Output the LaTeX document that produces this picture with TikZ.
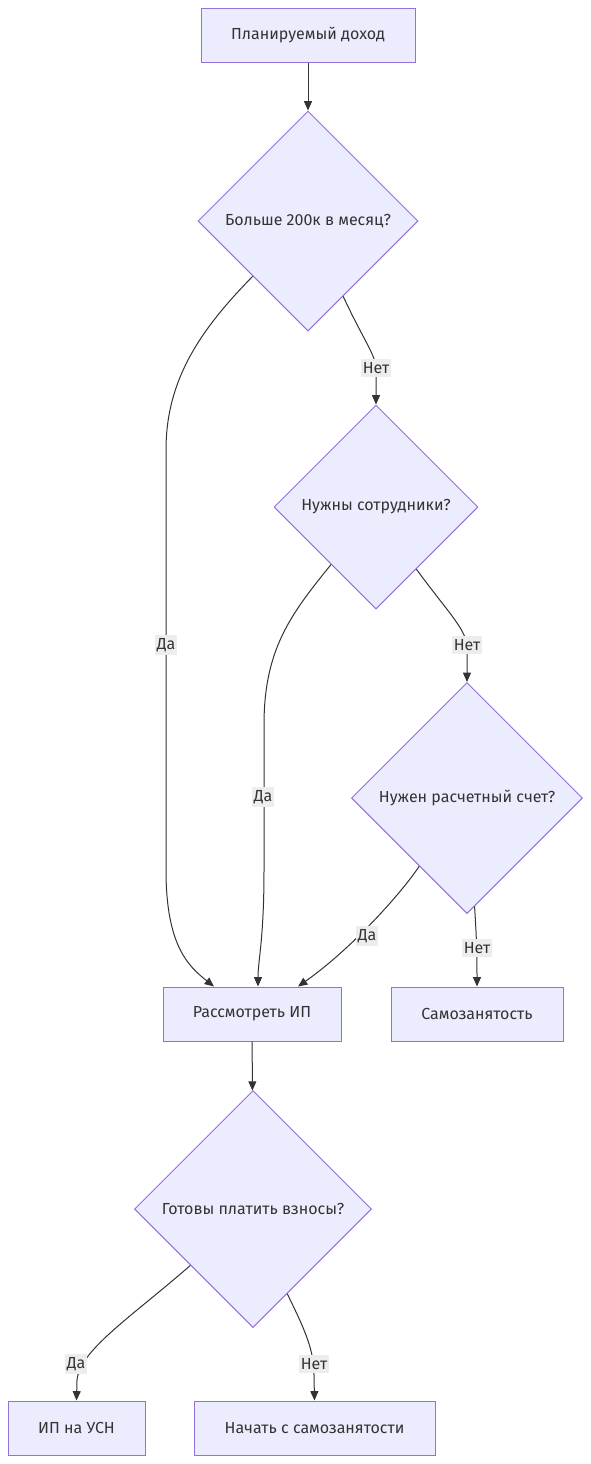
\documentclass[tikz,border=0pt]{standalone}
\usepackage{fontspec}
\setmainfont{Fira Sans}
\usetikzlibrary{shapes.geometric,arrows.meta,calc}

\definecolor{boxfill}{HTML}{ECECFF}
\definecolor{boxline}{HTML}{9370DB}
\definecolor{edgeline}{HTML}{333333}
\definecolor{labelfill}{HTML}{EDEDED}
\definecolor{textgray}{HTML}{333333}

\newcommand{\Px}{0.75pt}
\newcommand{\Rowh}{54}

\begin{document}
\begin{tikzpicture}[x=\Px,y=-\Px,
        every node/.style={font=\fontsize{12pt}{14pt}\selectfont, text=textgray},
        box/.style={rectangle, draw=boxline, fill=boxfill, line width=0.75pt, inner sep=0pt, minimum height=\Rowh*\Px},
        decision/.style={diamond, aspect=1, draw=boxline, fill=boxfill, line width=0.75pt, inner sep=0pt},
        flow/.style={draw=edgeline, line width=0.75pt, -{Triangle[length=7pt,width=6pt]}},
        elabel/.style={fill=labelfill, inner xsep=1pt, inner ysep=2.5pt}]
        \useasboundingbox (0,0) rectangle (591,1464);

        \node[box, minimum width=214*\Px] (plan) at (308,35) {Планируемый доход};
        \node[decision, minimum width=220*\Px, minimum height=220*\Px] (bigincome) at (308,221) {Больше 200к в месяц?};
        \node[decision, minimum width=204*\Px, minimum height=204*\Px] (staff) at (376,507) {Нужны сотрудники?};
        \node[decision, minimum width=231*\Px, minimum height=231*\Px] (account) at (467,798) {Нужен расчетный счет?};
        \node[box, minimum width=178*\Px] (consider) at (252,1014) {Рассмотреть ИП};
        \node[box, minimum width=172*\Px] (selfemp) at (477,1014) {Самозанятость};
        \node[decision, minimum width=237*\Px, minimum height=237*\Px] (fees) at (253,1209) {Готовы платить взносы?};
        \node[box, minimum width=137*\Px] (usn) at (76.5,1428) {ИП на УСН};
        \node[box, minimum width=241*\Px] (startself) at (314.5,1428) {Начать с самозанятости};

        \draw[flow] (plan) -- (bigincome);% first question
        \draw[flow] (bigincome.south west) .. controls (200,330) and (166,380) .. (166,450) -- (166,870)
                .. controls (166,945) and (188,966) .. ($(consider.north)+(-38,0)$)
                node[elabel] at (166,645) {Да};
        \draw[flow] (bigincome.-65) .. controls (366,345) and (376,355) .. (376,370) -- (staff.north)
                node[elabel] at (376,368) {Нет};
        \draw[flow] (staff.232) .. controls (290,615) and (264,650) .. (264,725) -- (264,870)
                .. controls (264,940) and (258,960) .. ($(consider.north)+(6,0)$)
                node[elabel] at (263,797) {Да};
        \draw[flow] (staff.-57) .. controls (450,615) and (467,630) .. (467,648) -- (account.north)
                node[elabel] at (467,645) {Нет};
        \draw[flow] (account.235) .. controls (400,895) and (350,950) .. ($(consider.north)+(46,0)$)
                node[elabel] at (367,936) {Да};
        \draw[flow] (account.-86) .. controls (476,930) and (477,945) .. (selfemp.north)
                node[elabel] at (477,948) {Нет};
        \draw[flow] (consider) -- (fees);% second question
        \draw[flow] (fees.222) .. controls (130,1318) and (80,1350) .. (77,1380) -- (usn.north)
                node[elabel] at (76,1364) {Да};
        \draw[flow] (fees.-68) .. controls (305,1330) and (314,1350) .. (314,1375) -- (startself.north)
                node[elabel] at (314,1364) {Нет};
\end{tikzpicture}
\end{document}
